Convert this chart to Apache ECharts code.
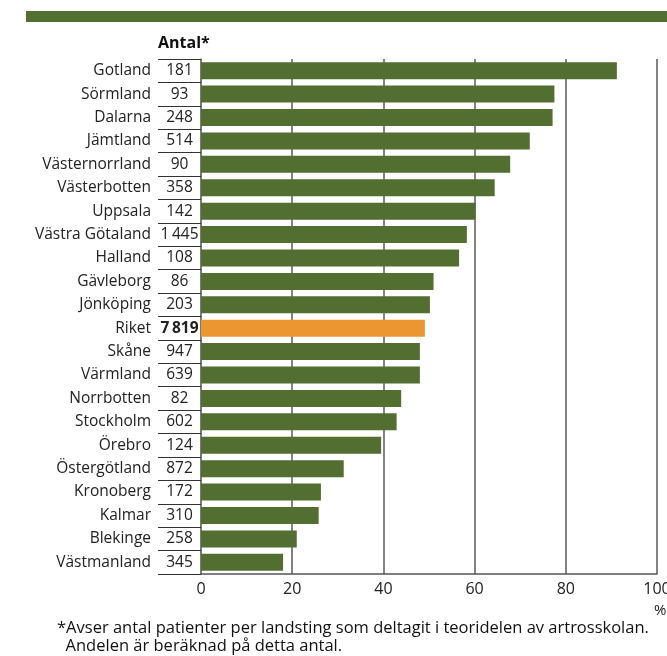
<!DOCTYPE html>
<html>
<head>
<meta charset="utf-8">
<script src="https://cdn.jsdelivr.net/npm/echarts@6/dist/echarts.min.js"></script>
<style>
html,body{margin:0;padding:0;background:#fff;overflow:hidden;}
#chart{width:667px;height:656px;}
</style>
</head>
<body>
<div id="chart"></div>
<script>
const categories = ['Gotland','Sörmland','Dalarna','Jämtland','Västernorrland','Västerbotten','Uppsala','Västra Götaland','Halland','Gävleborg','Jönköping','Riket','Skåne','Värmland','Norrbotten','Stockholm','Örebro','Östergötland','Kronoberg','Kalmar','Blekinge','Västmanland'];
const counts = ['181','93','248','514','90','358','142','1\u2009445','108','86','203','7\u2009819','947','639','82','602','124','872','172','310','258','345'];
const shares = [91.2,77.5,77.1,72.1,67.8,64.4,60.2,58.3,56.6,51.0,50.2,49.1,48.0,48.0,43.9,42.9,39.5,31.3,26.3,25.8,21.0,18.0];
const xTicks = [0,20,40,60,80,100];
const highlight = 'Riket';

const GREEN = '#526f31';
const ORANGE = '#ec9632';
const FONT = 'Open Sans';

const chart = echarts.init(document.getElementById('chart'), null, {renderer:'canvas', width:667, height:656});
chart.setOption({
  animation:false,
  textStyle:{fontFamily:FONT},
  grid:{left:201,right:10,top:59,bottom:82,containLabel:false,outerBoundsMode:'none'},
  xAxis:{
    type:'value', min:xTicks[0], max:xTicks[xTicks.length-1], interval:20,
    axisLine:{show:true,lineStyle:{color:'#555',width:1.5}},
    axisTick:{show:false},
    splitLine:{show:true,lineStyle:{color:'#5a5a5a',width:1.5}},
    axisLabel:{color:'#222',fontSize:16,fontFamily:FONT,margin:7}
  },
  yAxis:{
    type:'category', data:categories, inverse:true,
    axisLine:{show:true,lineStyle:{color:'#777',width:1.5}},
    axisTick:{show:true,length:43,lineStyle:{color:'#333',width:1}},
    axisLabel:{
      margin:0, fontFamily:FONT, fontSize:15.5, color:'#222',
      formatter:function(v,i){
        const c = counts[categories.indexOf(v)];
        return '{n|'+v+'}{'+(v===highlight?'b':'c')+'|'+c+'}';
      },
      rich:{
        n:{fontSize:15.5,color:'#222',fontFamily:FONT,padding:[0,7,0,0]},
        c:{fontSize:15.5,color:'#222',fontFamily:FONT,width:43,align:'center'},
        b:{fontSize:15.5,color:'#222',fontFamily:FONT,fontWeight:'bold',width:43,align:'center'}
      }
    }
  },
  series:[{
    type:'bar',
    data:shares.map((v,i)=>({value:v,itemStyle:{color:categories[i]===highlight?ORANGE:GREEN}})),
    barWidth:17,
    z:3
  }],
  graphic:[
    {type:'rect',left:26,top:11,shape:{width:641,height:11},style:{fill:'#527130'}},
    {type:'text',left:158,top:35,style:{text:'Antal*',font:'bold 16px "Open Sans"',fill:'#111'}},
    {type:'text',left:654,top:603,style:{text:'%',font:'15px "Open Sans"',fill:'#222'}},
    {type:'text',left:57,top:619,style:{text:'*Avser antal patienter per landsting som deltagit i teoridelen av artrosskolan.\n  Andelen är beräknad på detta antal.',font:'16.5px "Open Sans"',fill:'#111',lineHeight:18}}
  ]
});
</script>
</body>
</html>
